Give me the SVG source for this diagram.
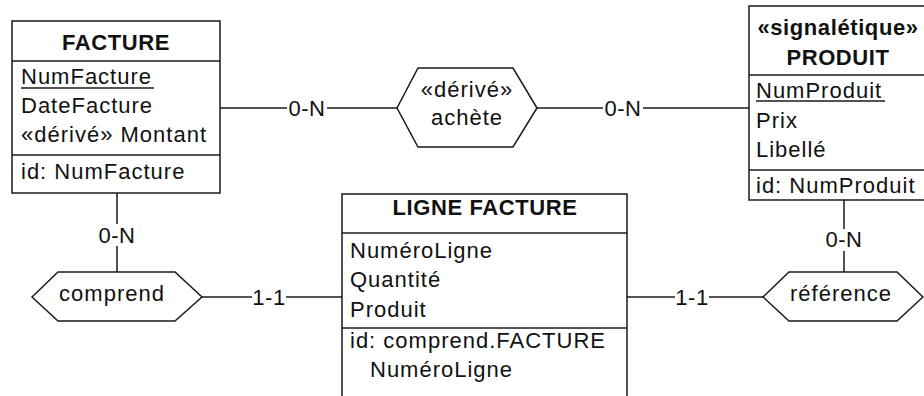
<svg xmlns="http://www.w3.org/2000/svg" width="924" height="396" viewBox="0 0 924 396">
<style>
.box{fill:#fff;stroke:#1a1a1a;stroke-width:1.5}
.ln{fill:none;stroke:#1a1a1a;stroke-width:1.5}
text{font-family:"Liberation Sans",Arial,sans-serif;font-size:22px;letter-spacing:1px;fill:#111}
.t{font-weight:bold;text-anchor:middle;letter-spacing:0.6px}
.c{text-anchor:middle}
.lbl{text-anchor:middle;letter-spacing:0.5px}
</style>
<rect width="924" height="396" fill="#fff"/>
<g id="connectors">
<line class="ln" x1="220" y1="108" x2="397" y2="108"/>
<line class="ln" x1="537" y1="108" x2="749" y2="108"/>
<line class="ln" x1="117" y1="193" x2="117" y2="272"/>
<line class="ln" x1="202" y1="297" x2="342" y2="297"/>
<line class="ln" x1="627" y1="297" x2="763" y2="297"/>
<line class="ln" x1="844" y1="200" x2="844" y2="272"/>
<rect x="287" y="96" width="40" height="24" fill="#fff"/>
<text class="lbl" x="307" y="116">0-N</text>
<rect x="603" y="96" width="40" height="24" fill="#fff"/>
<text class="lbl" x="623" y="116">0-N</text>
<rect x="97" y="224" width="40" height="22" fill="#fff"/>
<text class="lbl" x="117" y="243">0-N</text>
<rect x="824" y="229" width="40" height="22" fill="#fff"/>
<text class="lbl" x="844" y="247">0-N</text>
<rect x="252" y="285" width="34" height="24" fill="#fff"/>
<text class="lbl" x="269" y="305">1-1</text>
<rect x="675" y="285" width="34" height="24" fill="#fff"/>
<text class="lbl" x="692" y="305">1-1</text>
</g>
<g id="facture">
<rect class="box" x="12" y="21" width="208" height="172"/>
<line class="ln" x1="12" y1="61" x2="220" y2="61"/>
<line class="ln" x1="12" y1="155" x2="220" y2="155"/>
<text class="t" x="116" y="50">FACTURE</text>
<text x="21" y="84">NumFacture</text>
<line class="ln" x1="21" y1="88" x2="154" y2="88"/>
<text x="21" y="113">DateFacture</text>
<text x="21" y="142">«dérivé» Montant</text>
<text x="21" y="179">id: NumFacture</text>
</g>
<g id="produit">
<rect class="box" x="749" y="6" width="176" height="194"/>
<line class="ln" x1="749" y1="75" x2="925" y2="75"/>
<line class="ln" x1="749" y1="170" x2="925" y2="170"/>
<text class="t" x="838" y="35">«signalétique»</text>
<text class="t" x="838" y="65">PRODUIT</text>
<text x="756" y="98">NumProduit</text>
<line class="ln" x1="756" y1="101" x2="885" y2="101"/>
<text x="756" y="128">Prix</text>
<text x="756" y="157">Libellé</text>
<text x="756" y="193">id: NumProduit</text>
</g>
<g id="ligne-facture">
<rect class="box" x="342" y="194" width="285" height="210"/>
<line class="ln" x1="342" y1="233" x2="627" y2="233"/>
<line class="ln" x1="342" y1="328" x2="627" y2="328"/>
<text class="t" x="485" y="215">LIGNE FACTURE</text>
<text x="350" y="258">NuméroLigne</text>
<text x="350" y="287">Quantité</text>
<text x="350" y="317">Produit</text>
<text x="350" y="348">id: comprend.FACTURE</text>
<text x="370" y="377">NuméroLigne</text>
</g>
<g id="achete">
<polygon class="box" points="397,108 418,68 513,68 537,108 513,147 418,147"/>
<text class="c" x="467" y="97">«dérivé»</text>
<text class="c" x="467" y="125">achète</text>
</g>
<g id="comprend">
<polygon class="box" points="32,297 58,272 175,272 202,297 175,321 58,321"/>
<text class="c" x="112" y="301">comprend</text>
</g>
<g id="reference">
<polygon class="box" points="763,297 789,272 897,272 923,297 897,321 789,321"/>
<text class="c" x="841" y="301">référence</text>
</g>
</svg>
